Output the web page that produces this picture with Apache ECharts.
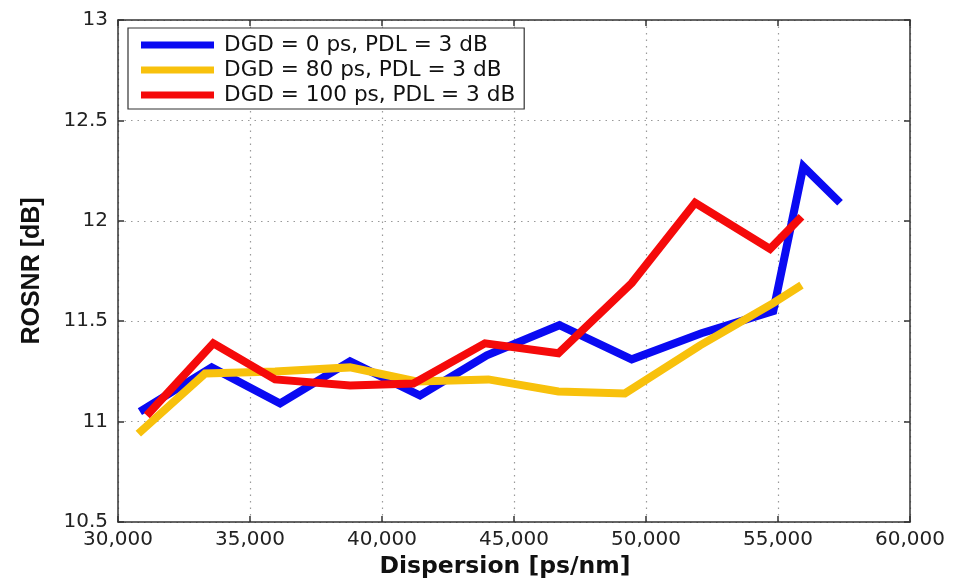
<!DOCTYPE html>
<html>
<head>
<meta charset="utf-8">
<script src="https://cdn.jsdelivr.net/npm/echarts@6/dist/echarts.min.js"></script>
<style>
  html, body { margin: 0; padding: 0; background: #fff; }
  #chart { width: 954px; height: 578px; }
</style>
</head>
<body>
<div id="chart"></div>
<script>
// ROSNR versus accumulated dispersion for three DGD settings (PDL = 3 dB)
const seriesNames = [
  'DGD = 0 ps, PDL = 3 dB',
  'DGD = 80 ps, PDL = 3 dB',
  'DGD = 100 ps, PDL = 3 dB'
];

const dispersionDGD0 = [30830, 33550, 36140, 38790, 41440, 43970, 46720, 49460, 52100, 54820, 55960, 57350];
const rosnrDGD0      = [11.05, 11.27, 11.09, 11.30, 11.13, 11.33, 11.48, 11.31, 11.44, 11.55, 12.27, 12.09];

const dispersionDGD80 = [30770, 33300, 35950, 38790, 41310, 44030, 46680, 49200, 52050, 54820, 55890];
const rosnrDGD80      = [10.94, 11.24, 11.25, 11.27, 11.20, 11.21, 11.15, 11.14, 11.38, 11.59, 11.68];

const dispersionDGD100 = [31090, 33610, 35950, 38790, 41190, 43900, 46680, 49460, 51860, 54700, 55890];
const rosnrDGD100      = [11.03, 11.39, 11.21, 11.18, 11.19, 11.39, 11.34, 11.69, 12.09, 11.86, 12.02];

const seriesColors = ['#0a0af2', '#f8c10c', '#f50a0a'];

const xTicks = { min: 30000, max: 60000, step: 5000 };
const yTicks = { min: 10.5, max: 13, step: 0.5 };

function pairs(xs, ys) { return xs.map((x, i) => [x, ys[i]]); }

const chart = echarts.init(document.getElementById('chart'), null, { renderer: 'canvas' });

const tickFont = '"DejaVu Sans", "Liberation Sans", Arial, sans-serif';
const nameFont = '"Liberation Sans", Arial, Helvetica, sans-serif';
const axisLineStyle = { color: '#333', width: 1.5 };
const gridLine = { show: true, lineStyle: { color: '#9a9a9a', type: [1.5, 5], width: 1.2 } };

const option = {
  backgroundColor: '#fff',
  animation: false,
  textStyle: { fontFamily: tickFont },
  grid: { left: 118, right: 44, top: 20, bottom: 56, containLabel: false, outerBoundsMode: 'none' },
  legend: {
    orient: 'vertical',
    left: 128,
    top: 28,
    padding: [6, 9, 3, 13],
    itemGap: 3,
    itemWidth: 73,
    itemHeight: 7,
    icon: 'rect',
    borderColor: '#333',
    borderWidth: 1.2,
    borderRadius: 0,
    backgroundColor: '#fff',
    textStyle: { fontSize: 21.6, color: '#111', fontFamily: tickFont, padding: [0, 0, 0, 5], lineHeight: 21 },
    data: seriesNames
  },
  xAxis: [
    {
      type: 'value',
      min: xTicks.min, max: xTicks.max, interval: xTicks.step,
      position: 'bottom',
      axisLine: { show: true, lineStyle: axisLineStyle },
      axisTick: { show: true, inside: true, length: 6, lineStyle: axisLineStyle },
      axisLabel: {
        fontSize: 20, color: '#222', margin: 8, fontFamily: tickFont,
        formatter: v => v.toLocaleString('en-US')
      },
      splitLine: gridLine,
      name: 'Dispersion [ps/nm]',
      nameLocation: 'middle',
      nameGap: 33,
      nameTextStyle: { fontSize: 23.5, fontWeight: 'bold', color: '#111', fontFamily: tickFont, padding: [0, 18, 0, 0] }
    },
    {
      type: 'value',
      min: xTicks.min, max: xTicks.max, interval: xTicks.step,
      position: 'top',
      axisLine: { show: true, lineStyle: axisLineStyle },
      axisTick: { show: true, inside: true, length: 6, lineStyle: axisLineStyle },
      axisLabel: { show: false },
      splitLine: { show: false }
    }
  ],
  yAxis: [
    {
      type: 'value',
      min: yTicks.min, max: yTicks.max, interval: yTicks.step,
      position: 'left',
      axisLine: { show: true, lineStyle: axisLineStyle },
      axisTick: { show: true, inside: true, length: 6, lineStyle: axisLineStyle },
      axisLabel: { fontSize: 20, color: '#222', margin: 10, fontFamily: tickFont },
      splitLine: gridLine,
      name: 'ROSNR [dB]',
      nameLocation: 'middle',
      nameGap: 73,
      nameTextStyle: { fontSize: 25, fontWeight: 'bold', color: '#111', fontFamily: nameFont }
    },
    {
      type: 'value',
      min: yTicks.min, max: yTicks.max, interval: yTicks.step,
      position: 'right',
      axisLine: { show: true, lineStyle: axisLineStyle },
      axisTick: { show: true, inside: true, length: 6, lineStyle: axisLineStyle },
      axisLabel: { show: false },
      splitLine: { show: false }
    }
  ],
  series: [
    { name: seriesNames[0], data: pairs(dispersionDGD0, rosnrDGD0), color: seriesColors[0] },
    { name: seriesNames[1], data: pairs(dispersionDGD80, rosnrDGD80), color: seriesColors[1] },
    { name: seriesNames[2], data: pairs(dispersionDGD100, rosnrDGD100), color: seriesColors[2] }
  ].map(s => ({
    type: 'line',
    name: s.name,
    data: s.data,
    xAxisIndex: 0,
    yAxisIndex: 0,
    showSymbol: false,
    symbol: 'none',
    itemStyle: { color: s.color },
    lineStyle: { color: s.color, width: 8, join: 'miter', cap: 'butt' }
  }))
};

chart.setOption(option);
</script>
</body>
</html>
